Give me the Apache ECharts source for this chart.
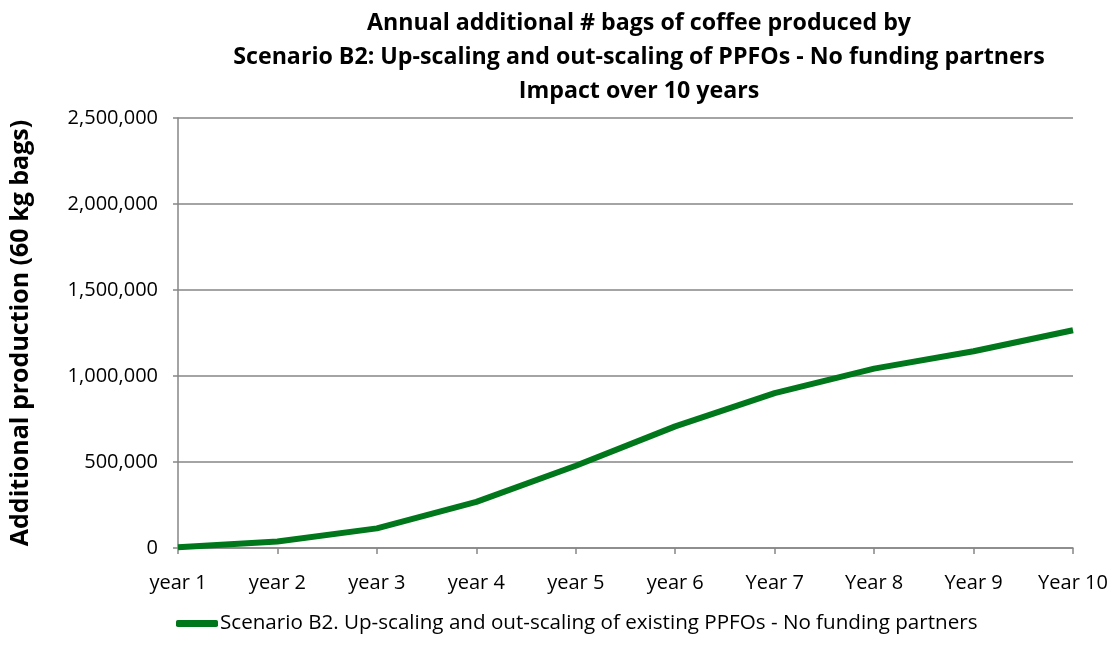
<!DOCTYPE html>
<html>
<head>
<meta charset="utf-8">
<script src="https://cdn.jsdelivr.net/npm/echarts@6/dist/echarts.min.js"></script>
<style>
  html, body { margin: 0; padding: 0; background: #fff; }
  #chart { width: 1114px; height: 658px; }
</style>
</head>
<body>
<div id="chart"></div>
<script>
// Years on the horizontal axis
var categories = ['year 1', 'year 2', 'year 3', 'year 4', 'year 5', 'year 6', 'Year 7', 'Year 8', 'Year 9', 'Year 10'];
// Additional bags (60 kg) produced each year
var production = [4000, 38000, 114000, 268000, 478000, 707000, 900000, 1043000, 1144000, 1266000];
var seriesName = 'Scenario B2. Up-scaling and out-scaling of existing PPFOs - No funding partners';
var titleLines = [
  'Annual additional # bags of coffee produced by',
  'Scenario B2: Up-scaling and out-scaling of PPFOs - No funding partners',
  'Impact over 10 years'
];
var yAxisTitle = 'Additional production (60 kg bags)';

var FONT = "'Open Sans', sans-serif";
var chart = echarts.init(document.getElementById('chart'));

chart.setOption({
  backgroundColor: '#ffffff',
  animation: false,
  title: {
    text: titleLines.join('\n'),
    left: 634,
    textAlign: 'center',
    top: 1,
    textStyle: { fontFamily: FONT, fontSize: 23.2, fontWeight: 'bold', color: '#000', lineHeight: 34 }
  },
  legend: {
    left: 171,
    top: 608,
    itemGap: 0,
    itemWidth: 42,
    itemHeight: 7,
    icon: 'roundRect',
    data: [seriesName],
    textStyle: { fontFamily: FONT, fontSize: 20.6, color: '#000', padding: [0, 0, 0, -3] }
  },
  grid: { left: 177, right: 41, top: 118, bottom: 110, containLabel: false },
  xAxis: {
    type: 'category',
    data: categories,
    boundaryGap: false,
    axisLine: { lineStyle: { color: '#868686', width: 1.5 } },
    axisTick: { show: true, length: 6, lineStyle: { color: '#868686', width: 1.5 } },
    axisLabel: { fontFamily: FONT, fontSize: 20, color: '#000', margin: 25, interval: 0 }
  },
  yAxis: {
    type: 'value',
    min: 0,
    max: 2500000,
    interval: 500000,
    name: yAxisTitle,
    nameLocation: 'middle',
    nameGap: 145,
    nameTextStyle: { fontFamily: FONT, fontSize: 25, fontWeight: 'bold', color: '#000' },
    axisLine: { show: true, lineStyle: { color: '#868686', width: 1.5 } },
    axisTick: { show: true, length: 5, lineStyle: { color: '#868686', width: 1.5 } },
    axisLabel: {
      fontFamily: FONT, fontSize: 20, color: '#000', margin: 20,
      formatter: function (v) { return v.toLocaleString('en-US'); }
    },
    splitLine: { show: true, lineStyle: { color: '#868686', width: 1.5 } }
  },
  series: [{
    name: seriesName,
    type: 'line',
    data: production,
    symbol: 'none',
    lineStyle: { color: '#00771a', width: 6 },
    itemStyle: { color: '#00771a' }
  }]
});
</script>
</body>
</html>
